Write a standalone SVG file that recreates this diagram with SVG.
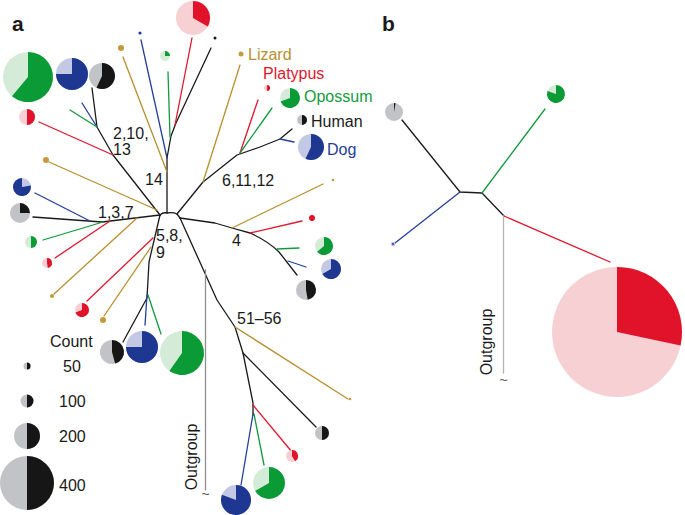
<svg xmlns="http://www.w3.org/2000/svg" width="685" height="515" viewBox="0 0 685 515">
<style>
text{font-family:"Liberation Sans",Arial,sans-serif;font-size:16px;fill:#1a1a1a}
.pl{font-weight:bold;font-size:21px}
.sm{font-size:16px}
.tl{font-size:14px;fill:#555555}
.ln path,.ln line{fill:none;stroke-width:1.3;stroke-linejoin:round;stroke-linecap:round}
.k{stroke:#1a1a1a}.g{stroke:#139a3e}.b{stroke:#24409a}.r{stroke:#e0182d}.t{stroke:#b8902e}.o{stroke:#8e8e8e}.o2{stroke:#b4b4b4}
.gl{fill:#d4ebd7}.gd{fill:#0a9a36}.bl{fill:#c3c8e5}.bd{fill:#1e3892}.rl{fill:#f7d0d3}.rd{fill:#e1132b}.kl{fill:#c1c3c6}.kd{fill:#161616}.td{fill:#c49a3c}
</style>
<rect width="685" height="515" fill="#ffffff"/>
<text class="pl" x="12" y="31">a</text>
<text class="pl" x="382" y="31">b</text>

<g id="connectors" class="ln">
  <path class="k" d="M160,215 Q163,212 167,213 Q173,212 177,214 L180,218"/>
  <path class="k" d="M167,213 L167,158 L171,136 L176,123 L211,48"/>
  <line class="t" x1="167" y1="172" x2="123" y2="57"/>
  <line class="b" x1="167" y1="158" x2="141" y2="40"/>
  <line class="g" x1="170" y1="137" x2="168" y2="72"/>
  <line class="r" x1="175" y1="125" x2="192" y2="38"/>
  <path class="k" d="M160,215 L113,155 L97,127 L92,88"/>
  <line class="r" x1="113" y1="155" x2="39" y2="122"/>
  <line class="b" x1="97" y1="127" x2="82" y2="103"/>
  <line class="g" x1="97" y1="127" x2="70" y2="110"/>
  <line class="t" x1="157" y1="210" x2="49" y2="162"/>
  <path class="k" d="M160,215 L102,222 L33,217"/>
  <line class="b" x1="90" y1="221" x2="35" y2="193"/>
  <line class="g" x1="103" y1="222" x2="43" y2="240"/>
  <line class="r" x1="110" y1="221" x2="55" y2="258"/>
  <line class="t" x1="137" y1="218" x2="54" y2="294"/>
  <path class="k" d="M160,215 L149,262 L147,298 L123,342"/>
  <line class="r" x1="153" y1="238" x2="87" y2="301"/>
  <line class="t" x1="151" y1="247" x2="104" y2="316"/>
  <line class="b" x1="147" y1="295" x2="145" y2="325"/>
  <line class="g" x1="148" y1="295" x2="161" y2="334"/>
  <path class="k" d="M177,214 L203,182 L237,155 L260,147 L280,139 L292,129"/>
  <line class="t" x1="203" y1="182" x2="240" y2="65"/>
  <line class="r" x1="240" y1="153" x2="258" y2="100"/>
  <line class="g" x1="240" y1="153" x2="272" y2="108"/>
  <line class="b" x1="280" y1="139" x2="294" y2="142"/>
  <path class="k" d="M180,218 L215,223 L232,228 L250,233 Q268,241 279,252 L297,275"/>
  <line class="t" x1="232" y1="228" x2="323" y2="184"/>
  <line class="r" x1="250" y1="233" x2="302" y2="221"/>
  <line class="g" x1="277" y1="249" x2="299" y2="248"/>
  <line class="b" x1="288" y1="261" x2="306" y2="267"/>
  <path class="k" d="M180,218 L217,300 L235,327 L243,353 L253,403 L253,415"/>
  <line class="t" x1="235" y1="327" x2="348" y2="399"/>
  <line class="k" x1="243" y1="353" x2="316" y2="427"/>
  <line class="r" x1="253" y1="405" x2="292" y2="452"/>
  <line class="g" x1="254" y1="414" x2="264" y2="465"/>
  <line class="b" x1="253" y1="414" x2="241" y2="485"/>
  <line class="o" x1="205.5" y1="270" x2="205.5" y2="490"/>
  <path class="k" d="M402,120 L460,192 L482,193 L504,216"/>
  <line class="b" x1="460" y1="192" x2="395" y2="243"/>
  <line class="g" x1="482" y1="193" x2="545" y2="109"/>
  <line class="r" x1="504" y1="216" x2="610" y2="262"/>
  <line class="o2" x1="503.5" y1="216" x2="503.5" y2="373"/>
</g>

<g id="labels">
  <text x="248" y="60" style="fill:#b8902e">Lizard</text>
  <text x="263" y="79" style="fill:#e0182d">Platypus</text>
  <text x="304" y="102" style="fill:#139a3e">Opossum</text>
  <text x="311" y="127">Human</text>
  <text x="327" y="155" style="fill:#24409a">Dog</text>
  <text class="sm" x="113" y="138.5">2,10,</text>
  <text class="sm" x="113" y="155">13</text>
  <text x="145" y="185">14</text>
  <text x="222" y="186">6,11,12</text>
  <text x="98" y="218">1,3,7</text>
  <text class="sm" x="156" y="241">5,8,</text>
  <text class="sm" x="156" y="257.5">9</text>
  <text x="232" y="246">4</text>
  <text x="237" y="324">51–56</text>
  <text transform="translate(197,457) rotate(-90)" text-anchor="middle">Outgroup</text>
  <text class="tl" x="205.5" y="499" text-anchor="middle">~</text>
  <text transform="translate(492,342) rotate(-90)" text-anchor="middle">Outgroup</text>
  <text class="tl" x="503.5" y="385" text-anchor="middle">~</text>
</g>

<g id="legend">
  <text x="50" y="347">Count</text>
  <circle class="kl" cx="27" cy="366" r="3.5"/><path class="kd" d="M27,366 L27,362.5 A3.5,3.5 0 0 1 27,369.5 Z"/>
  <text x="63" y="372">50</text>
  <circle class="kl" cx="27" cy="401" r="6.5"/><path class="kd" d="M27,401 L27,394.5 A6.5,6.5 0 0 1 27,407.5 Z"/>
  <text x="59" y="407">100</text>
  <circle class="kl" cx="27" cy="436" r="13"/><path class="kd" d="M27,436 L27,423 A13,13 0 0 1 27,449 Z"/>
  <text x="59" y="442">200</text>
  <circle class="kl" cx="27" cy="483" r="27"/><path class="kd" d="M27,483 L27,456 A27,27 0 0 1 27,510 Z"/>
  <text x="59" y="491">400</text>
</g>

<g id="pie-g1"><circle class="gl" cx="28" cy="77" r="25"/><path class="gd" d="M28,77 L28,52 A25,25 0 1 1 11.93,96.15 Z"/></g>
<g id="pie-b1"><circle class="bl" cx="72" cy="74" r="16"/><path class="bd" d="M72,74 L72,58 A16,16 0 1 1 56,74 Z"/></g>
<g id="pie-k1"><circle class="kl" cx="102" cy="76" r="13"/><path class="kd" d="M102,76 L102,63 A13,13 0 1 1 96.5,87.78 Z"/></g>
<g id="pie-r1"><circle class="rl" cx="27" cy="117" r="8"/><path class="rd" d="M27,117 L27,109 A8,8 0 0 1 27,125 Z"/></g>
<g id="pie-g2"><circle class="gl" cx="165" cy="56" r="5"/><path class="gd" d="M165,56 L165,51 A5,5 0 0 1 170,56 Z"/></g>
<g id="pie-r2"><circle class="rl" cx="193" cy="18" r="17"/><path class="rd" d="M193,18 L193,1 A17,17 0 0 1 207.72,26.5 Z"/></g>
<g id="dot-k2"><circle class="kd" cx="215" cy="38" r="1.5"/></g>
<g id="dot-b2"><circle class="bd" cx="140" cy="33" r="1.6"/></g>
<g id="dot-t1"><circle class="td" cx="121" cy="48" r="3"/></g>
<g id="dot-t2"><circle class="td" cx="46" cy="160" r="3"/></g>
<g id="pie-b3"><circle class="bl" cx="22" cy="187" r="9"/><path class="bd" d="M22,187 L30.86,185.44 A9,9 0 1 1 22,178 Z"/></g>
<g id="pie-k3"><circle class="kl" cx="20" cy="213" r="10"/><path class="kd" d="M20,213 L20,203 A10,10 0 0 1 30,213 Z"/></g>
<g id="pie-g3"><circle class="gl" cx="31" cy="242" r="6"/><path class="gd" d="M31,242 L31,236 A6,6 0 0 1 31,248 Z"/></g>
<g id="pie-r3"><circle class="rl" cx="47" cy="263" r="5"/><path class="rd" d="M47,263 L47,258 A5,5 0 0 1 47.87,267.92 Z"/></g>
<g id="dot-t3"><circle class="td" cx="52" cy="296" r="2"/></g>
<g id="pie-r4"><circle class="rl" cx="82" cy="310" r="7"/><path class="rd" d="M82,310 L82,303 A7,7 0 1 1 75.42,312.39 Z"/></g>
<g id="dot-t4"><circle class="td" cx="103" cy="320" r="3"/></g>
<g id="pie-k4"><circle class="kl" cx="112" cy="352" r="12"/><path class="kd" d="M112,352 L112,340 A12,12 0 0 1 115.11,363.59 Z"/></g>
<g id="pie-b4"><circle class="bl" cx="142" cy="347" r="16"/><path class="bd" d="M142,347 L142,331 A16,16 0 1 1 126,347 Z"/></g>
<g id="pie-g4"><circle class="gl" cx="182" cy="353" r="22"/><path class="gd" d="M182,353 L182,331 A22,22 0 1 1 169.38,371.02 Z"/></g>
<g id="dot-lizard"><circle class="td" cx="241" cy="54" r="2.5"/></g>
<g id="pie-platypus"><circle class="rl" cx="267" cy="88" r="3"/><path class="rd" d="M267,88 L267,85 A3,3 0 0 1 267,91 Z"/></g>
<g id="pie-opossum"><circle class="gl" cx="290" cy="98" r="10"/><path class="gd" d="M290,98 L290,88 A10,10 0 1 1 280.6,101.42 Z"/></g>
<g id="pie-human"><circle class="kl" cx="302" cy="120" r="5"/><path class="kd" d="M302,120 L302,115 A5,5 0 0 1 302,125 Z"/></g>
<g id="pie-dog"><circle class="bl" cx="311" cy="147" r="13"/><path class="bd" d="M311,147 L311,134 A13,13 0 1 1 305.51,158.78 Z"/></g>
<g id="dot-t5"><circle class="td" cx="333" cy="180" r="1.3"/></g>
<g id="dot-r6"><circle class="rd" cx="312" cy="218" r="3"/></g>
<g id="pie-g6"><circle class="gl" cx="324" cy="246" r="9"/><path class="gd" d="M324,246 L324,237 A9,9 0 1 1 317.11,251.79 Z"/></g>
<g id="pie-b6"><circle class="bl" cx="331" cy="269" r="10"/><path class="bd" d="M331,269 L331,259 A10,10 0 1 1 322.34,274 Z"/></g>
<g id="pie-k6"><circle class="kl" cx="306" cy="290" r="10"/><path class="kd" d="M306,290 L306,280 A10,10 0 0 1 307.74,299.85 Z"/></g>
<g id="dot-t6"><circle class="td" cx="350" cy="399" r="1.3"/></g>
<g id="pie-k7"><circle class="kl" cx="322" cy="433" r="7"/><path class="kd" d="M322,433 L322,426 A7,7 0 0 1 322,440 Z"/></g>
<g id="pie-r7"><circle class="rl" cx="292" cy="456" r="6"/><path class="rd" d="M292,456 L292,450 A6,6 0 0 1 295,461.2 Z"/></g>
<g id="pie-g7"><circle class="gl" cx="269" cy="483" r="16"/><path class="gd" d="M269,483 L269,467 A16,16 0 1 1 255.14,491 Z"/></g>
<g id="pie-b7"><circle class="bl" cx="236" cy="500" r="15"/><path class="bd" d="M236,500 L236,485 A15,15 0 1 1 221.9,494.87 Z"/></g>

<g id="b-pie-k"><circle class="kl" cx="394" cy="112" r="9"/><path class="kd" d="M394,112 L394,103 A9,9 0 0 1 395.56,103.14 Z"/></g>
<g id="b-dot-b"><circle class="bl" cx="393" cy="244" r="2.3"/><circle class="bd" cx="393" cy="244" r="1"/></g>
<g id="b-pie-g"><circle class="gl" cx="556" cy="94" r="9"/><path class="gd" d="M556,94 L556,85 A9,9 0 1 1 547.54,90.92 Z"/></g>
<g id="b-pie-r"><circle class="rl" cx="617" cy="332" r="65"/><path class="rd" d="M617,332 L617,267 A65,65 0 0 1 680.58,345.51 Z"/></g>
</svg>
